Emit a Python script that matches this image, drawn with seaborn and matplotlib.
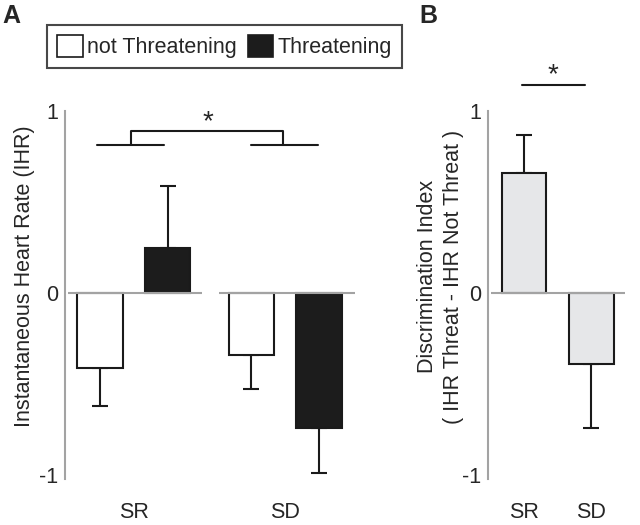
import numpy as np
import pandas as pd
import matplotlib
matplotlib.use('Agg')
import matplotlib.pyplot as plt
from matplotlib.patches import Patch
import seaborn as sns

# datos
groups = ['SR', 'SD']
conditions = ['not Threatening', 'Threatening']
ihr_not = [-0.41, -0.34]
ihr_not_err = [0.21, 0.19]
ihr_thr = [0.25, -0.74]
ihr_thr_err = [0.34, 0.25]
disc_vals = [0.66, -0.39]
disc_err = [0.21, 0.35]

sns.set_style('white')
plt.rcParams['font.family'] = ['Liberation Sans', 'DejaVu Sans']
plt.rcParams['font.size'] = 15.5

gray = '#a3a3a3'

df_a = pd.DataFrame({
    'group': groups * 2,
    'condition': [conditions[0]] * 2 + [conditions[1]] * 2,
    'value': ihr_not + ihr_thr,
})
err_a = {(g, conditions[0]): e for g, e in zip(groups, ihr_not_err)}
err_a.update({(g, conditions[1]): e for g, e in zip(groups, ihr_thr_err)})

df_b = pd.DataFrame({'group': groups, 'value': disc_vals})

fig = plt.figure(figsize=(6.4, 5.25), dpi=100)
ax_a = fig.add_axes([65 / 640, 0.0884, 290 / 640, 0.700])
ax_b = fig.add_axes([488 / 640, 0.0884, 137 / 640, 0.700])


def add_errors(ax, vals, errs, xs):
    for x, v, e in zip(xs, vals, errs):
        lo = e if v < 0 else 0
        hi = e if v > 0 else 0
        ax.errorbar(x, v, yerr=[[lo], [hi]], fmt='none', ecolor='#1a1a1a',
                    elinewidth=1.5, capsize=6, capthick=1.5, zorder=1)


def style_axis(ax):
    sns.despine(ax=ax, bottom=True, right=True, top=True)
    ax.spines['left'].set_color(gray)
    ax.spines['left'].set_linewidth(1.5)
    ax.set_ylim(-1.02, 1.0)
    ax.set_yticks([-1, 0, 1])
    ax.set_yticklabels(['-1', '0', '1'])
    ax.tick_params(axis='y', length=0, pad=5, labelsize=15.5)
    ax.tick_params(axis='x', length=0, pad=17, labelsize=15.5)
    ax.set_xlabel('')
    ax.patch.set_alpha(0)


# ---------------------------
# Panel A
# ---------------------------
sns.barplot(data=df_a, x='group', y='value', hue='condition', order=groups,
            hue_order=conditions, palette={conditions[0]: 'white', conditions[1]: '#1c1c1c'},
            edgecolor='#1a1a1a', linewidth=1.5, width=0.893, gap=0.33,
            errorbar=None, legend=False, ax=ax_a, zorder=2)
bars = sorted(ax_a.patches, key=lambda p: p.get_x())
xs = [p.get_x() + p.get_width() / 2 for p in bars]
order = [(g, c) for g in groups for c in conditions]
vals = [df_a[(df_a.group == g) & (df_a.condition == c)].value.iloc[0] for g, c in order]
add_errors(ax_a, vals, [err_a[k] for k in order], xs)

ax_a.set_xlim(-0.453, 1.46)
ax_a.hlines(0, -0.433, 0.453, color=gray, lw=1.5, zorder=3)
ax_a.hlines(0, 0.56, 1.46, color=gray, lw=1.5, zorder=3)
style_axis(ax_a)
ax_a.set_ylabel('Instantaneous Heart Rate (IHR)', fontsize=15.5)
ax_a.yaxis.set_label_coords(-0.103, 0.55)

# corchete de significancia
k = '#1a1a1a'
ax_a.plot([-0.24, 0.2], [0.813, 0.813], color=k, lw=1.5)
ax_a.plot([-0.02, -0.02, 0.987, 0.987], [0.813, 0.89, 0.89, 0.813], color=k, lw=1.5)
ax_a.plot([0.773, 1.213], [0.813, 0.813], color=k, lw=1.5)
ax_a.text(0.49, 0.94, '*', ha='center', va='center', fontsize=20)

# ---------------------------
# Panel B
# ---------------------------
sns.barplot(data=df_b, x='group', y='value', order=groups, color='#e6e7e9',
            edgecolor='#1a1a1a', linewidth=1.5, width=0.66, errorbar=None,
            ax=ax_b, zorder=2)
bars_b = sorted(ax_b.patches, key=lambda p: p.get_x())
xs_b = [p.get_x() + p.get_width() / 2 for p in bars_b]
add_errors(ax_b, disc_vals, disc_err, xs_b)
ax_b.set_xlim(-0.54, 1.5)
ax_b.hlines(0, -0.5, 1.5, color=gray, lw=1.5, zorder=3)
style_axis(ax_b)
ax_b.set_ylabel('Discrimination Index\n( IHR Threat - IHR Not Threat )',
                fontsize=15.5, linespacing=1.3)
ax_b.yaxis.set_label_coords(-0.175, 0.55)
ax_b.plot([-0.03, 0.91], [1.143, 1.143], color=k, lw=1.5, clip_on=False)
ax_b.text(0.43, 1.2, '*', ha='center', va='center', fontsize=20)

# leyenda
handles = [Patch(facecolor='white', edgecolor='#1a1a1a', lw=1.2, label=conditions[0]),
           Patch(facecolor='#1c1c1c', edgecolor='#1c1c1c', lw=1.2, label=conditions[1])]
leg = fig.legend(handles=handles, loc='center', bbox_to_anchor=(0.3508, 0.9114), ncol=2,
                 frameon=True, fancybox=False, fontsize=15.5, handlelength=1.2,
                 handleheight=1.2, handletextpad=0.2, columnspacing=0.5,
                 borderpad=0.45, borderaxespad=0)
leg.get_frame().set_edgecolor('#1a1a1a')
leg.get_frame().set_linewidth(1.5)

fig.text(2 / 640, 1 - 16 / 525, 'A', fontsize=18, fontweight='bold', va='center')
fig.text(419 / 640, 1 - 16 / 525, 'B', fontsize=18, fontweight='bold', va='center')

fig.savefig('out.png', dpi=100)
